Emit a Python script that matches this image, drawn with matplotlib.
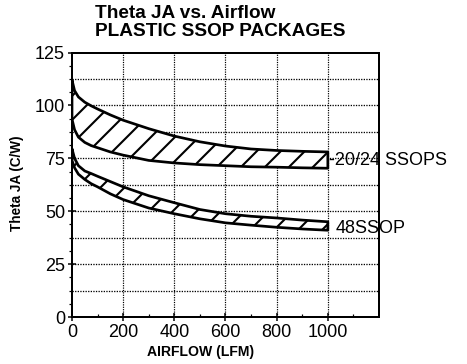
import numpy
import matplotlib
matplotlib.use("Agg")
import matplotlib.pyplot as plt

# airflow samples (LFM)
airflow = [0, 10, 25, 50, 75, 100, 150, 200, 300, 400, 500, 600, 700, 800, 900, 1000]

# 20/24 SSOPS band (C/W)
ssop20_hi = [112, 107, 104, 101.5, 99.8, 98.3, 95.5, 93, 89, 85.5, 82.8, 80.8, 79.4, 78.7, 78.3, 78]
ssop20_lo = [93.5, 88.5, 85, 82.5, 81, 80, 78, 76.5, 74, 72.8, 72, 71.5, 71, 70.8, 70.5, 70.3]

# 48SSOP band (C/W)
ssop48_hi = [79.5, 75, 71.5, 69, 67.8, 66.5, 64, 61.5, 57.3, 54, 50.8, 48.8, 47.6, 46.8, 45.8, 45]
ssop48_lo = [74, 70.5, 67.5, 65, 63, 61.5, 58.2, 55.5, 51.5, 48.8, 46.4, 44.5, 43.4, 42.4, 41.6, 41]

band_names = ["-20/24 SSOPS", "48SSOP"]

xticks = [0, 200, 400, 600, 800, 1000]
yticks = [0, 25, 50, 75, 100, 125]

plt.rcParams['font.family'] = ['Liberation Sans', 'DejaVu Sans']
plt.rcParams['hatch.linewidth'] = 2.1
plt.rcParams['hatch.color'] = 'black'

fig = plt.figure(figsize=(467 / 72, 364 / 72), dpi=72)
ax = fig.add_axes([72 / 467, 47 / 364, 307 / 467, 264.5 / 364])

ax.fill_between(airflow, ssop20_lo, ssop20_hi, facecolor='white', edgecolor='black',
                hatch='/', linewidth=2.7, zorder=3)
ax.fill_between(airflow, ssop48_lo, ssop48_hi, facecolor='white', edgecolor='black',
                hatch='/', linewidth=2.7, zorder=3)

ax.set_xlim(0, 1200)
ax.set_ylim(0, 125)
ax.set_xticks(xticks)
ax.set_yticks(yticks)
ax.set_xticks(numpy.arange(100, 1200, 200), minor=True)
ax.set_yticks(numpy.arange(0, 125, 6.25), minor=True)
ax.tick_params(which='major', direction='inout', length=8, width=1.5, labelsize=18, pad=3)
ax.tick_params(which='minor', direction='out', length=3, width=1.2)
ax.tick_params(axis='x', which='minor', direction='in')

for y in numpy.arange(12.5, 125, 12.5):
    ax.axhline(y, color='black', linestyle=(0, (1, 1)), linewidth=1.3, zorder=1)
for x in xticks[1:]:
    ax.axvline(x, color='black', linestyle=(0, (1, 1)), linewidth=1.2, zorder=1)

for s in ax.spines.values():
    s.set_linewidth(2)

ax.annotate(band_names[0], xy=(1000, 74), xytext=(1, 0), textcoords='offset points',
            va='center', ha='left', fontsize=18, annotation_clip=False)
ax.annotate(band_names[1], xy=(1000, 42), xytext=(8, 0), textcoords='offset points',
            va='center', ha='left', fontsize=18, annotation_clip=False)

fig.text(95 / 467, 1 - 13 / 364, "Theta JA vs. Airflow", fontsize=19, fontweight='bold',
         ha='left', va='center')
fig.text(95 / 467, 1 - 32 / 364, "PLASTIC SSOP PACKAGES", fontsize=19, fontweight='bold',
         ha='left', va='center')
fig.text(17 / 467, 1 - 183 / 364, "Theta JA (C/W)", fontsize=13.5, fontweight='bold',
         rotation=90, ha='center', va='center')
fig.text(201 / 467, 1 - 352 / 364, "AIRFLOW (LFM)", fontsize=14, fontweight='bold',
         ha='center', va='center')

fig.savefig("out.png", dpi=72)
